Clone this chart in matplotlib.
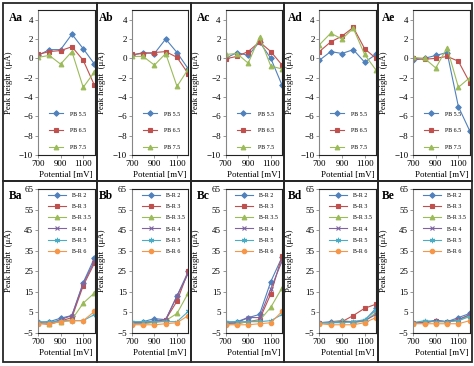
import matplotlib
matplotlib.use('Agg')
import matplotlib.pyplot as plt
from matplotlib.patches import Rectangle

plt.rcParams['font.family'] = ['Liberation Serif', 'DejaVu Serif']

# x values (mV)
potential = [700, 800, 900, 1000, 1100, 1200]

# --- row A: effect of PB pH ---
pb_labels = ['PB 5.5', 'PB 6.5', 'PB 7.5']
aa = [[0.3, 0.9, 0.9, 2.5, 1.0, -0.6],
      [0.4, 0.7, 0.8, 1.2, -0.2, -2.8],
      [0.1, 0.3, -0.6, 0.7, -3.0, -1.4]]
ab = [[0.3, 0.6, 0.5, 2.0, 0.6, -1.1],
      [0.4, 0.5, 0.6, 0.7, 0.1, -1.6],
      [0.2, 0.2, -0.7, 0.5, -2.9, -1.1]]
ac = [[0.0, 0.6, 0.3, 1.7, 0.0, -2.8],
      [-0.05, 0.2, 0.7, 1.7, 0.7, -0.7],
      [0.4, 0.5, -0.5, 2.2, -0.8, -1.1]]
ad = [[-0.2, 0.7, 0.5, 0.9, -0.4, 0.4],
      [0.7, 1.7, 2.3, 3.2, 1.0, 0.0],
      [1.4, 2.6, 2.0, 3.1, 0.4, -1.2]]
ae = [[-0.2, 0.0, 0.3, 0.6, -5.0, -7.5],
      [0.0, -0.1, 0.0, 0.2, -0.3, -2.5],
      [0.1, 0.0, -1.0, 1.1, -3.0, -2.0]]

# --- row B: effect of B-R buffer pH ---
br_labels = ['B-R 2', 'B-R 3', 'B-R 3.5', 'B-R 4', 'B-R 5', 'B-R 6']
ba = [[0.3, 0.5, 2.2, 3.5, 19.5, 31.5],
      [-0.3, -0.8, 0.8, 2.5, 18.0, 29.0],
      [0.0, -0.5, 0.5, 1.5, 9.5, 14.5],
      [0.0, -0.3, 1.5, 3.5, 19.0, 30.0],
      [0.3, 0.3, 0.8, 1.0, 1.0, 4.0],
      [-0.5, -0.5, 0.5, 1.0, 1.0, 5.5]]
bb = [[0.0, 0.5, 2.0, 1.5, 13.0, 25.0],
      [-0.5, -0.5, 0.5, 1.5, 10.5, 25.0],
      [-0.3, -0.3, 0.0, 1.0, 4.5, 14.5],
      [0.0, 0.0, 1.0, 1.5, 13.0, 24.0],
      [0.5, 0.5, 0.5, 0.5, 0.5, 5.5],
      [-1.0, -1.0, -1.0, -0.5, 0.0, 3.5]]
bc = [[0.0, 0.5, 2.5, 4.0, 20.0, 32.0],
      [-0.5, -0.5, 0.5, 1.5, 14.0, 32.5],
      [0.0, -0.3, 0.5, 1.0, 7.5, 17.0],
      [-0.3, 0.0, 2.5, 2.5, 16.5, 30.0],
      [0.5, 0.5, 0.5, 0.5, 1.0, 4.0],
      [-1.0, -1.0, -1.0, -0.5, 0.0, 5.5]]
bd = [[0.0, 0.5, 1.0, 0.0, 1.0, 7.0],
      [0.0, 0.0, 0.5, 3.5, 7.0, 9.0],
      [0.0, 0.0, 1.0, 0.5, 0.5, 5.0],
      [0.0, 0.0, 0.5, 0.5, 1.0, 4.0],
      [0.0, 0.0, 0.0, 0.5, 1.5, 6.0],
      [-0.5, -1.0, -1.0, -1.0, 0.0, 2.5]]
be = [[-0.3, 0.5, 1.0, 0.5, 2.5, 4.5],
      [0.0, 0.0, 1.0, 0.5, 1.5, 3.5],
      [0.0, 0.5, 0.5, 0.5, 1.0, 3.5],
      [0.0, 0.0, 1.0, 0.5, 1.5, 4.0],
      [0.0, 1.0, 0.5, 0.5, 1.0, 3.0],
      [-0.5, -0.5, -0.5, -0.5, -0.5, 1.0]]

row_a = [('Aa', aa), ('Ab', ab), ('Ac', ac), ('Ad', ad), ('Ae', ae)]
row_b = [('Ba', ba), ('Bb', bb), ('Bc', bc), ('Bd', bd), ('Be', be)]

colors = ['#4F81BD', '#C0504D', '#9BBB59', '#8064A2', '#4BACC6', '#F79646']
markers = ['D', 's', '^', 'x', (6, 2, 0), 'o']
msizes = [2.8, 3.4, 3.4, 3.4, 3.8, 3.2]

W, H = 474, 366
fig = plt.figure(figsize=(W / 100, H / 100), dpi=100)


def rect(l, t, w, h):
    return [l / W, 1 - (t + h) / H, w / W, h / H]


panel_x = [3, 96.8, 190.6, 284.4, 378.2]
panel_w = 93.8
label_x = [9, 99, 197, 288, 382]
rows = [(row_a, pb_labels, 3, 178, 10, 145), (row_b, br_labels, 181, 181, 189, 144)]

for r, (panels, labels, top, height, ax_top, ax_h) in enumerate(rows):
    for i, (name, series) in enumerate(panels):
        x0 = panel_x[i]
        # panel frame
        fig.add_artist(Rectangle((x0 / W, 1 - (top + height) / H), panel_w / W, height / H,
                                 transform=fig.transFigure, fill=False, lw=1.3, ec='#262626'))
        ax = fig.add_axes(rect(x0 + 35, ax_top, 56.5, ax_h))
        for k, vals in enumerate(series):
            ax.plot(potential, vals, color=colors[k], marker=markers[k], ms=msizes[k],
                    mew=0.8, lw=0.8, label=labels[k])
        ax.set_xlim(700, 1200)
        ax.set_xticks([700, 900, 1100])
        if r == 0:
            ax.set_ylim(-10, 5)
            ax.set_yticks(range(-10, 5, 2))
            ax.legend(loc='lower left', bbox_to_anchor=(0.1, 0.0), frameon=False,
                      fontsize=4.3, labelspacing=1.9, handlelength=2.3, handletextpad=1.2)
        else:
            ax.set_ylim(-5, 65)
            ax.set_yticks(range(-5, 66, 10))
            ax.legend(loc='upper left', bbox_to_anchor=(0.08, 1.01), frameon=False,
                      fontsize=4.3, labelspacing=1.0, handlelength=3.0, handletextpad=1.0)
        ax.tick_params(labelsize=6.5, length=2, width=0.6, pad=1.5, color='#868686')
        for s in ['top', 'right', 'bottom']:
            ax.spines[s].set_color('#222222')
            ax.spines[s].set_linewidth(0.8)
        ax.spines['left'].set_color('#868686')
        ax.spines['left'].set_linewidth(0.8)
        ax.set_xlabel('Potential [mV]', fontsize=6.5, labelpad=2.5)
        ax.set_ylabel('Peak height  (μA)', fontsize=6.3)
        ax.yaxis.set_label_coords(-0.45, 0.5)
        fig.text(label_x[i] / W, 1 - (top + 15) / H, name, fontsize=8.3, fontweight='bold',
                 ha='left', va='center')

fig.savefig('out.png', dpi=100)
